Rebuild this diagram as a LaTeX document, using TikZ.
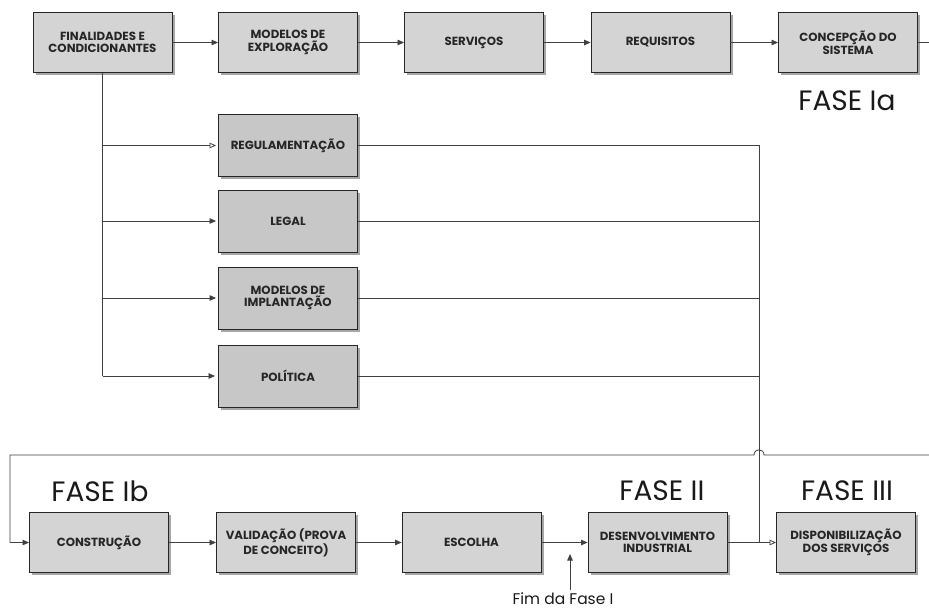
\documentclass[tikz,border=0pt]{standalone}
\usepackage{fontspec}
\setmainfont{Poppins}
\usetikzlibrary{arrows.meta,shadows}
\begin{document}
\begin{tikzpicture}[x=1pt,y=-1pt,
  box/.style={draw=black!85, line width=0.9pt, fill=black!17,
    minimum width=139pt, minimum height=60pt, align=center, inner sep=2pt,
    font=\fontsize{11.8}{12.5}\selectfont\bfseries, text=black!85,
    drop shadow={shadow xshift=2.5pt, shadow yshift=-2.5pt, fill=black!35, opacity=1}},
  midbox/.style={box, fill=black!22, minimum height=62pt},
  line/.style={draw=black!75, line width=0.8pt},
  arr/.style={line, -{Triangle[length=6.5pt,width=5.5pt]}},
  oarr/.style={line, -{Triangle[open,length=6.5pt,width=5.5pt]}},
  fase/.style={font=\fontsize{28}{30}\selectfont, text=black!90},
]
\useasboundingbox (0,0) rectangle (929,610);
\fill[white] (0,0) rectangle (929,610);

% top row
\node[box] (fin) at (102.5,42.5) {FINALIDADES E\\CONDICIONANTES};
\node[box] (mex) at (288,42.5) {MODELOS DE\\EXPLORAÇÃO};
\node[box] (ser) at (474,42.5) {SERVIÇOS};
\node[box] (req) at (660.5,42.5) {REQUISITOS};
\node[box] (con) at (848,42.5) {CONCEPÇÃO DO\\SISTEMA};
\node[fase] (fIa) at (847,101) {FASE Ia};

% middle column
\node[midbox] (reg) at (288,145.5) {REGULAMENTAÇÃO};
\node[midbox] (leg) at (288,221) {LEGAL};
\node[midbox] (imp) at (288,298) {MODELOS DE\\IMPLANTAÇÃO};
\node[midbox] (pol) at (288,376) {POLÍTICA};

% bottom row
\node[box] (cst) at (99,542.5) {CONSTRUÇÃO};
\node[box] (val) at (286,542.5) {VALIDAÇÃO (PROVA\\DE CONCEITO)};
\node[box] (esc) at (471.5,542.5) {ESCOLHA};
\node[box] (des) at (657.5,542.5) {DESENVOLVIMENTO\\INDUSTRIAL};
\node[box] (dis) at (846,542.5) {DISPONIBILIZAÇÃO\\DOS SERVIÇOS};
\node[fase] (fIb) at (100,491) {FASE Ib};
\node[fase] (fII) at (662,491) {FASE II};
\node[fase] (fIII) at (847,491) {FASE III};
\node[font=\fontsize{15.5}{17}\selectfont, text=black!90] (fim) at (563,599) {Fim da Fase I};

% coordinates
\coordinate (outR) at (929,42.5);
\coordinate (inR) at (929,455);
\coordinate (bus) at (759,145.5);
\coordinate (join) at (759,542.5);
\coordinate (lft) at (10,455);
\coordinate (fimtip) at (570,554);

% top arrows
\draw[arr] (fin) -- (mex);
\draw[arr] (mex) -- (ser);
\draw[arr] (ser) -- (req);
\draw[arr] (req) -- (con);
\draw[line] (con.east) -- (outR);

% trunk and branches
\draw[line] (fin.south) -- (fin.south |- pol.west);
\draw[oarr] (fin.south |- reg.west) -- ([xshift=-2pt]reg.west);
\draw[arr] (fin.south |- leg.west) -- ([xshift=-2pt]leg.west);
\draw[arr] (fin.south |- imp.west) -- ([xshift=-2pt]imp.west);
\draw[arr] (fin.south |- pol.west) -- ([xshift=-3pt]pol.west);

% right bus
\draw[line] (reg.east) -- (bus) -- (join);
\draw[line] (leg.east) -- (leg.east -| bus);
\draw[line] (imp.east) -- (imp.east -| bus);
\draw[line] (pol.east) -- (pol.east -| bus);

% return line with hop
\draw[line] (inR) -- (764,455) .. controls (764,448) and (754,448) .. (754,455) -- (lft) -- (lft |- cst.west);
\draw[arr] (lft |- cst.west) -- (cst.west);

% bottom arrows
\draw[arr] (cst) -- (val);
\draw[arr] (val) -- (esc);
\draw[arr] (esc) -- (des);
\draw[oarr] (des) -- (dis);

% fim arrow
\draw[arr] (fim.north -| fimtip) -- (fimtip);
\end{tikzpicture}
\end{document}
